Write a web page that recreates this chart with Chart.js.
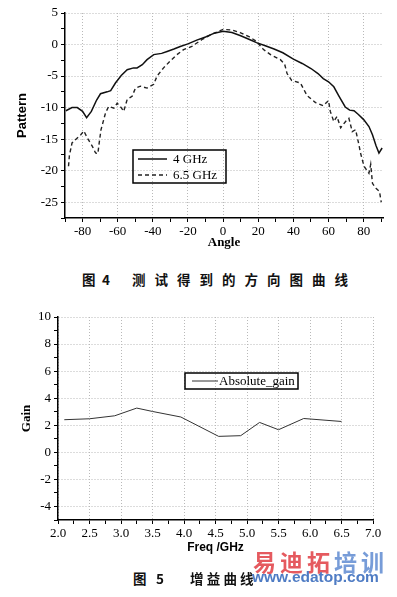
<!DOCTYPE html>
<html>
<head>
<meta charset="utf-8">
<script src="https://cdn.jsdelivr.net/npm/chart.js@4.4.1/dist/chart.umd.min.js"></script>
<style>
  body { margin: 0; background: #fff; }
  #page { position: relative; width: 397px; height: 597px; overflow: hidden; background: #fff; }
  canvas { position: absolute; left: 0; }
  .cap { position: absolute; font-family: "Noto Sans CJK SC", sans-serif; font-weight: bold; font-size: 13.5px; line-height: 14px; color: #111; white-space: nowrap; }
  .mark { position: absolute; font-family: "Noto Sans CJK SC", sans-serif; font-weight: bold; font-size: 23px; line-height: 23px; letter-spacing: 4px; white-space: nowrap; }
  .url { position: absolute; font-family: "Liberation Sans", Arial, sans-serif; font-weight: bold; font-size: 15.5px; line-height: 15px; color: #4f7cc4; white-space: nowrap; }
</style>
</head>
<body>
<div id="page">
  <canvas id="pattern" width="397" height="250" style="top:0"></canvas>
  <div class="cap" style="left:82px;top:272px">图</div>
  <div class="cap" style="left:102px;top:272px">4</div>
  <div class="cap" style="left:132px;top:272px;letter-spacing:9px">测试得到的方向图曲线</div>

  <canvas id="gain" width="397" height="256" style="top:300px"></canvas>
  <div class="cap" style="left:133px;top:571px">图</div>
  <div class="cap" style="left:156px;top:571px">5</div>
  <div class="cap" style="left:190px;top:571px;letter-spacing:3.2px">增益曲线</div>
  <div class="mark" style="left:253px;top:550px"><span style="color:rgba(226,72,78,0.9)">易迪拓</span><span style="color:rgba(104,145,212,0.9)">培训</span></div>
  <div class="url" style="left:252px;top:569px">www.edatop.com</div>
</div>
<script>
// Fig. 4 - measured radiation pattern
const angle4 = [-89.5, -86, -83, -80, -77.7, -75, -72, -69.8, -66, -64, -61.3, -58, -54.6, -51, -49, -46, -43.3, -39.5, -35, -31.9, -28, -24.4, -20, -15, -10, -5, 0, 5, 10, 15, 19, 24, 29, 34, 40, 45, 50, 54, 57, 60, 63, 66, 69.5, 72, 74.5, 77, 80, 83, 85, 87, 88.7, 90.5];
const pattern4 = [-10.5, -10.0, -10.0, -10.6, -11.6, -10.6, -8.8, -7.8, -7.5, -7.3, -6.1, -4.9, -4.0, -3.7, -3.7, -3.2, -2.4, -1.6, -1.4, -1.1, -0.7, -0.3, 0.1, 0.7, 1.2, 1.8, 2.1, 1.9, 1.4, 0.8, 0.3, -0.2, -0.7, -1.3, -2.3, -3.0, -3.8, -4.6, -5.4, -5.9, -6.7, -8.2, -9.9, -10.4, -10.5, -11.1, -11.9, -13.0, -14.3, -16.0, -17.2, -16.4];
const angle65 = [-88, -87.5, -86, -83, -81, -79.3, -77.3, -74.5, -72.6, -71.3, -70.5, -69.5, -66.9, -65.1, -62.2, -60.3, -58, -56.6, -54.6, -51.8, -49.9, -47.1, -43.3, -39.5, -37.6, -33.9, -30.1, -26.3, -22.5, -17.8, -12, -6, 0, 5, 9.7, 15, 19, 23, 27, 32.6, 35, 36.4, 39, 44, 47.8, 52.6, 57, 60, 61, 63, 64.8, 66.9, 69.7, 71.6, 73.5, 75.4, 77.3, 78.2, 80.2, 83, 84, 85, 87, 89, 90];
const pattern65 = [-19.3, -17.6, -15.6, -14.8, -14.3, -13.7, -14.8, -16.1, -17.2, -17.3, -15.5, -13.5, -10.8, -9.8, -10.1, -9.3, -10.0, -10.6, -8.7, -8.2, -6.9, -6.6, -6.9, -6.3, -5.0, -3.7, -2.6, -1.6, -0.8, -0.3, 0.8, 1.7, 2.4, 2.3, 1.9, 1.2, 0.5, -0.8, -1.6, -2.4, -3.1, -4.6, -5.7, -6.1, -8.1, -9.2, -9.7, -8.9, -10.6, -12.2, -11.4, -13.2, -12.2, -11.7, -13.8, -13.5, -15.9, -17.2, -19.3, -20.4, -19.0, -22.0, -22.8, -23.3, -25.0];
const angleTicks = [-80, -60, -40, -20, 0, 20, 40, 60, 80];
const patternTicks = [5, 0, -5, -10, -15, -20, -25];

// Fig. 5 - gain curve
const freq = [2.1, 2.5, 2.9, 3.25, 3.5, 3.95, 4.55, 4.9, 5.2, 5.5, 5.9, 6.5];
const gain = [2.41, 2.48, 2.7, 3.27, 3.02, 2.61, 1.18, 1.23, 2.21, 1.67, 2.5, 2.28];
const freqTicks = ['2.0', '2.5', '3.0', '3.5', '4.0', '4.5', '5.0', '5.5', '6.0', '6.5', '7.0'];
const gainTicks = [10, 8, 6, 4, 2, 0, -2, -4];

const serif = "'Liberation Serif', 'Times New Roman', serif";
const sans = "'Liberation Sans', Arial, sans-serif";

const pts = (xs, ys) => xs.map((x, i) => ({ x: x, y: ys[i] }));

// evenly spaced major + minor tick positions
function stepTicks(from, to, step) {
  const out = [];
  const n = Math.round((to - from) / step);
  for (let i = 0; i <= n; i++) out.push({ value: +(from + i * step).toFixed(4) });
  return out;
}

// legend drawn in a framed box inside the plot
const boxLegend = {
  id: 'boxLegend',
  afterDraw(chart, args, o) {
    const ctx = chart.ctx;
    ctx.save();
    ctx.lineWidth = 1.5;
    ctx.strokeStyle = '#000';
    ctx.strokeRect(o.x, o.y, o.w, o.h);
    ctx.font = o.font;
    ctx.fillStyle = '#000';
    ctx.textBaseline = 'middle';
    chart.data.datasets.forEach((ds, i) => {
      const y = o.y + o.rowTop + i * o.rowH;
      ctx.setLineDash(ds.borderDash || []);
      ctx.lineWidth = ds.borderWidth;
      ctx.strokeStyle = ds.borderColor;
      ctx.beginPath();
      ctx.moveTo(o.x + o.lineX, y);
      ctx.lineTo(o.x + o.lineX + o.lineLen, y);
      ctx.stroke();
      ctx.setLineDash([]);
      ctx.fillText(ds.label, o.x + o.textX, y + 1);
    });
    ctx.restore();
  }
};

const tickFont = { family: serif, size: 13 };
const gridColor = '#b9b9b9';

new Chart(document.getElementById('pattern'), {
  type: 'line',
  data: {
    datasets: [{
      label: '4 GHz',
      data: pts(angle4, pattern4),
      borderColor: '#111',
      borderWidth: 1.5
    }, {
      label: '6.5 GHz',
      data: pts(angle65, pattern65),
      borderColor: '#222',
      borderWidth: 1.4,
      borderDash: [4, 3]
    }]
  },
  options: {
    responsive: false,
    animation: false,
    elements: { point: { radius: 0 }, line: { tension: 0 } },
    layout: { padding: { left: 0, right: 14, top: 13, bottom: 0 } },
    plugins: {
      legend: { display: false },
      tooltip: { enabled: false },
      boxLegend: { x: 133, y: 150, w: 93, h: 33, lineX: 5, lineLen: 29, textX: 40, rowTop: 9, rowH: 16, font: '13px ' + serif }
    },
    scales: {
      x: {
        type: 'linear', min: -90, max: 91,
        afterBuildTicks: s => { s.ticks = stepTicks(-90, 90, 10); },
        afterFit: s => { s.height = 32; },
        ticks: { autoSkip: false, maxRotation: 0, padding: 2, color: '#000', font: tickFont,
          callback: v => angleTicks.includes(v) ? String(v) : '' },
        grid: { color: c => c.tick && angleTicks.includes(c.tick.value) ? gridColor : 'rgba(0,0,0,0)',
          tickColor: '#000', tickLength: 4 },
        border: { color: '#000', width: 1.5, dash: [1, 2] },
        title: { display: true, text: 'Angle', color: '#000', font: { family: serif, size: 13, weight: 'bold' }, padding: { top: 0, bottom: 0 } }
      },
      y: {
        type: 'linear', min: -27.5, max: 5,
        afterBuildTicks: s => { s.ticks = stepTicks(-27.5, 5, 2.5); },
        afterFit: s => { s.width = 65; },
        ticks: { autoSkip: false, padding: 3, color: '#000', font: tickFont,
          callback: v => patternTicks.includes(v) ? String(v) : '' },
        grid: { color: c => c.tick && patternTicks.includes(c.tick.value) ? gridColor : 'rgba(0,0,0,0)',
          tickColor: '#000', tickLength: 4 },
        border: { color: '#000', width: 1.5, dash: [1, 2] },
        title: { display: true, text: 'Pattern', color: '#000', font: { family: sans, size: 13, weight: 'bold' }, padding: { top: 15, bottom: 0 } }
      }
    }
  },
  plugins: [boxLegend]
});

new Chart(document.getElementById('gain'), {
  type: 'line',
  data: {
    datasets: [{
      label: 'Absolute_gain',
      data: pts(freq, gain),
      borderColor: '#333',
      borderWidth: 1
    }]
  },
  options: {
    responsive: false,
    animation: false,
    elements: { point: { radius: 0 }, line: { tension: 0 } },
    layout: { padding: { left: 0, right: 24, top: 17, bottom: 0 } },
    plugins: {
      legend: { display: false },
      tooltip: { enabled: false },
      boxLegend: { x: 185, y: 73, w: 113, h: 16, lineX: 7, lineLen: 26, textX: 34, rowTop: 8, rowH: 16, font: '13px ' + serif }
    },
    scales: {
      x: {
        type: 'linear', min: 2, max: 7,
        afterBuildTicks: s => { s.ticks = stepTicks(2, 7, 0.25); },
        afterFit: s => { s.height = 36; },
        ticks: { autoSkip: false, maxRotation: 0, padding: 2, color: '#000', font: tickFont,
          callback: v => { const t = v.toFixed(1); return freqTicks.includes(t) && Math.abs(v - parseFloat(t)) < 1e-6 ? t : ''; } },
        grid: { color: c => c.tick && freqTicks.includes(c.tick.value.toFixed(1)) && Math.abs(c.tick.value * 2 - Math.round(c.tick.value * 2)) < 1e-6 ? gridColor : 'rgba(0,0,0,0)',
          tickColor: '#000', tickLength: 4 },
        border: { color: '#000', width: 1.5, dash: [1, 2] },
        title: { display: true, text: 'Freq /GHz', color: '#000', font: { family: sans, size: 12, weight: 'bold' }, padding: { top: 0, bottom: 1 } }
      },
      y: {
        type: 'linear', min: -5, max: 10,
        afterBuildTicks: s => { s.ticks = stepTicks(-5, 10, 1); },
        afterFit: s => { s.width = 58; },
        ticks: { autoSkip: false, padding: 3, color: '#000', font: tickFont,
          callback: v => gainTicks.includes(v) ? String(v) : '' },
        grid: { color: c => c.tick && gainTicks.includes(c.tick.value) ? gridColor : 'rgba(0,0,0,0)',
          tickColor: '#000', tickLength: 4 },
        border: { color: '#000', width: 1.5, dash: [1, 2] },
        title: { display: true, text: 'Gain', color: '#000', font: { family: serif, size: 13, weight: 'bold' }, padding: { top: 19, bottom: 0 } }
      }
    }
  },
  plugins: [boxLegend]
});
</script>
</body>
</html>
